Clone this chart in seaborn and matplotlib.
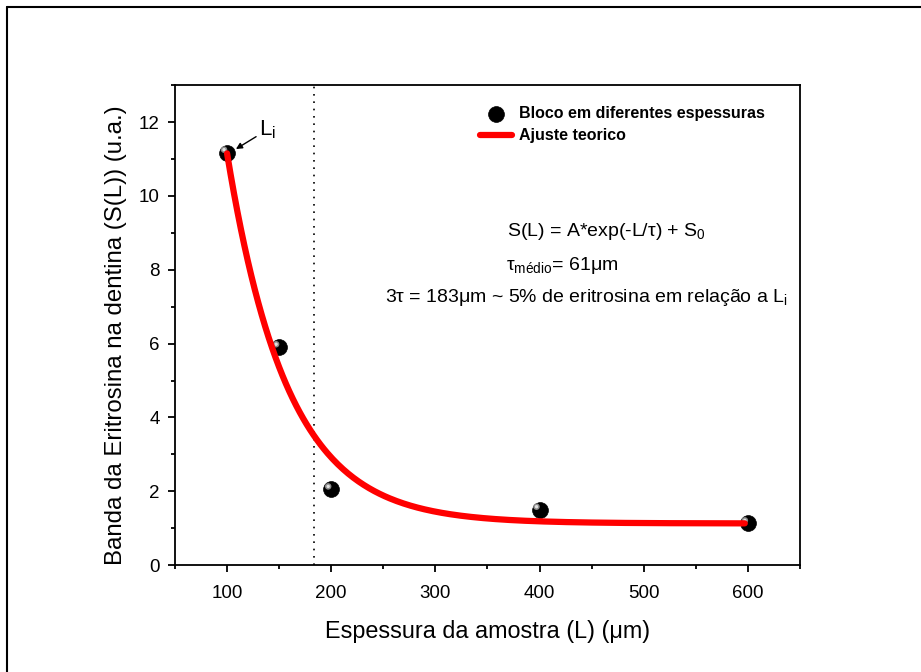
import numpy as np
import pandas as pd
import matplotlib
matplotlib.use("Agg")
import matplotlib.pyplot as plt
import matplotlib.transforms as mtransforms
from matplotlib.lines import Line2D
import seaborn as sns

# --- DADOS ---
espessura = [100, 150, 200, 400, 600]          # L (um)
banda = [11.17, 5.90, 2.05, 1.50, 1.13]        # S(L) (u.a.)

# parametros do ajuste S(L) = A*exp(-L/tau) + S0
A_fit = 56.2
tau_fit = 58.0
S0_fit = 1.13
L_fit_min, L_fit_max = 100, 597
L_3tau = 183

sns.set_theme(style="ticks")
plt.rcParams['font.family'] = ['Liberation Sans', 'DejaVu Sans']
plt.rcParams['text.color'] = 'black'
plt.rcParams['axes.labelcolor'] = 'black'
plt.rcParams['xtick.color'] = 'black'
plt.rcParams['ytick.color'] = 'black'
plt.rcParams['mathtext.fontset'] = 'custom'
plt.rcParams['mathtext.rm'] = 'Liberation Sans'
plt.rcParams['mathtext.it'] = 'Liberation Sans:italic'
plt.rcParams['mathtext.bf'] = 'Liberation Sans:bold'

df = pd.DataFrame({'L': espessura, 'S': banda})
L_curve = np.linspace(L_fit_min, L_fit_max, 300)
df_fit = pd.DataFrame({'L': L_curve, 'S': A_fit * np.exp(-L_curve / tau_fit) + S0_fit})

fig = plt.figure(figsize=(9.21, 6.72), dpi=100)
ax = fig.add_axes([0.190, 0.159, 0.6786, 0.7143])

# linha 3*tau
ax.axvline(L_3tau, color='black', lw=1.2, linestyle=(0, (1, 3.4)), zorder=1)

# pontos (esferas pretas)
sns.scatterplot(data=df, x='L', y='S', ax=ax, s=130, color='black',
                edgecolor='black', linewidth=0.5, zorder=3,
                label='Bloco em diferentes espessuras')
# brilho das esferas
shift = mtransforms.ScaledTranslation(-2.2 / 72, 2.2 / 72, fig.dpi_scale_trans)
ax.scatter(df['L'], df['S'], s=22, color='#8a8a8a', edgecolor='none',
           zorder=4, transform=ax.transData + shift)
ax.scatter(df['L'], df['S'], s=6, color='#e0e0e0', edgecolor='none',
           zorder=4, transform=ax.transData + shift)

# ajuste teorico
sns.lineplot(data=df_fit, x='L', y='S', ax=ax, color='#ff0000', lw=4.5,
             zorder=5, label='Ajuste teorico')

ax.set_xlim(50, 650)
ax.set_ylim(0, 13)
ax.set_xticks([100, 200, 300, 400, 500, 600])
ax.set_xticks(np.arange(50, 651, 50), minor=True)
ax.set_yticks(np.arange(0, 13, 2))
ax.set_yticks(np.arange(0, 14, 1), minor=True)
ax.tick_params(which='major', direction='out', length=5, width=1.3,
               labelsize=13.5, pad=6, color='black')
ax.tick_params(axis='x', which='major', pad=9)
ax.tick_params(which='minor', direction='out', length=3, width=1.3, color='black')
for sp in ax.spines.values():
    sp.set_linewidth(1.3)
    sp.set_color('black')

ax.set_xlabel('Espessura da amostra (L) (μm)', fontsize=16.8, labelpad=13)
ax.set_ylabel('Banda da Eritrosina na dentina (S(L)) (u.a.)', fontsize=17.3)
ax.yaxis.set_label_coords(-0.076, 0.48)

# legenda
leg = ax.legend(loc='upper left', bbox_to_anchor=(0.478, 0.97), frameon=False,
                prop={'weight': 'bold', 'size': 11.5}, handlelength=2.0,
                handletextpad=0.45, labelspacing=0.45, borderaxespad=0)

# anotacao L_i
ax.annotate('L$_\\mathrm{i}$', xy=(108.5, 11.27), xytext=(131, 11.8),
            fontsize=16, ha='left', va='center',
            arrowprops=dict(arrowstyle='-|>', color='black', lw=1.0,
                            mutation_scale=9, shrinkA=0, shrinkB=0))

# textos da equacao
ax.text(0.531, 0.696, 'S(L) = A*exp(-L/τ) + S$_\\mathrm{0}$', transform=ax.transAxes,
        fontsize=14, ha='left', va='center')
ax.text(0.530, 0.625, 'τ$_\\mathrm{médio}$= 61μm', transform=ax.transAxes,
        fontsize=14, ha='left', va='center')
ax.text(0.336, 0.558, '3τ = 183μm ~ 5% de eritrosina em relação a L$_\\mathrm{i}$',
        transform=ax.transAxes, fontsize=14, ha='left', va='center')

# moldura externa (topo e esquerda)
fig.add_artist(Line2D([7 / 921, 1.0], [1 - 7 / 672, 1 - 7 / 672], color='black', lw=1.5,
                      transform=fig.transFigure))
fig.add_artist(Line2D([7 / 921, 7 / 921], [0.0, 1 - 7 / 672], color='black', lw=1.5,
                      transform=fig.transFigure))

fig.savefig('out.png', dpi=100)
